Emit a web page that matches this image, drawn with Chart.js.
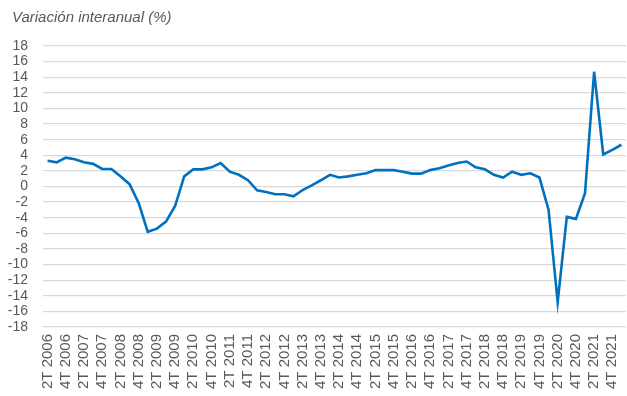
<!DOCTYPE html>
<html>
<head>
<meta charset="utf-8">
<script src="https://cdn.jsdelivr.net/npm/chart.js@4/dist/chart.umd.min.js"></script>
<style>
  html, body { margin: 0; padding: 0; background: #fff; }
  #wrap { position: relative; width: 627px; height: 396px; }
  #title {
    position: absolute; left: 12px; top: 8px;
    font: italic 15px 'Liberation Sans', Arial, sans-serif;
    color: #595959;
  }
</style>
</head>
<body>
<div id="wrap">
  <canvas id="c" width="627" height="396"></canvas>
  <div id="title">Variación interanual (%)</div>
</div>
<script>
// Quarterly year-on-year change (%), 2T 2006 .. 1T 2022
const quarters = [];
for (let y = 2006; y <= 2022; y++) {
  for (let q = 1; q <= 4; q++) {
    if (y === 2006 && q === 1) continue;
    if (y === 2022 && q > 1) continue;
    quarters.push(q + 'T ' + y);
  }
}

const values = [
  3.3, 3.1, 3.7, 3.5, 3.1, 2.9, 2.25, 2.25, 1.3, 0.3,
  -2.1, -5.8, -5.4, -4.5, -2.5, 1.3, 2.2, 2.2, 2.45, 3.0,
  1.9, 1.5, 0.8, -0.5, -0.7, -1.0, -1.0, -1.25, -0.45, 0.15,
  0.8, 1.5, 1.15, 1.3, 1.5, 1.7, 2.1, 2.1, 2.1, 1.9,
  1.65, 1.65, 2.1, 2.35, 2.7, 3.0, 3.2, 2.45, 2.2, 1.5,
  1.15, 1.9, 1.5, 1.7, 1.15, -3.0, -14.8, -3.9, -4.15, -0.85,
  14.7, 4.1, 4.7, 5.35
];

const yMin = -18, yMax = 18, yStep = 2;
const FONT = "'Liberation Sans', Arial, sans-serif";

new Chart(document.getElementById('c'), {
  type: 'line',
  data: {
    labels: quarters,
    datasets: [{
      data: values,
      borderColor: '#0070C0',
      borderWidth: 2.6,
      pointRadius: 0,
      tension: 0,
      fill: false
    }]
  },
  options: {
    responsive: false,
    animation: false,
    layout: { padding: { top: 46, left: 0, right: 1, bottom: 0 } },
    plugins: {
      legend: { display: false },
      tooltip: { enabled: false },
      title: { display: false }
    },
    scales: {
      x: {
        type: 'category',
        offset: true,
        grid: { display: false, drawTicks: false },
        border: { display: false },
        ticks: {
          autoSkip: false,
          minRotation: 90,
          maxRotation: 90,
          padding: 7,
          color: '#595959',
          font: { family: FONT, size: 15 },
          callback: function (val, i) { return i % 2 === 0 ? this.getLabelForValue(val) : ''; }
        },
        afterFit: s => { s.height = 69; s.paddingLeft = 0; s.paddingRight = 0; }
      },
      y: {
        min: yMin,
        max: yMax,
        grid: { color: '#d9d9d9', lineWidth: 1.3, drawTicks: false },
        border: { display: false },
        ticks: {
          stepSize: yStep,
          autoSkip: false,
          padding: 15,
          color: '#595959',
          font: { family: FONT, size: 14 }
        },
        afterFit: s => { s.width = 43; }
      }
    }
  }
});
</script>
</body>
</html>
